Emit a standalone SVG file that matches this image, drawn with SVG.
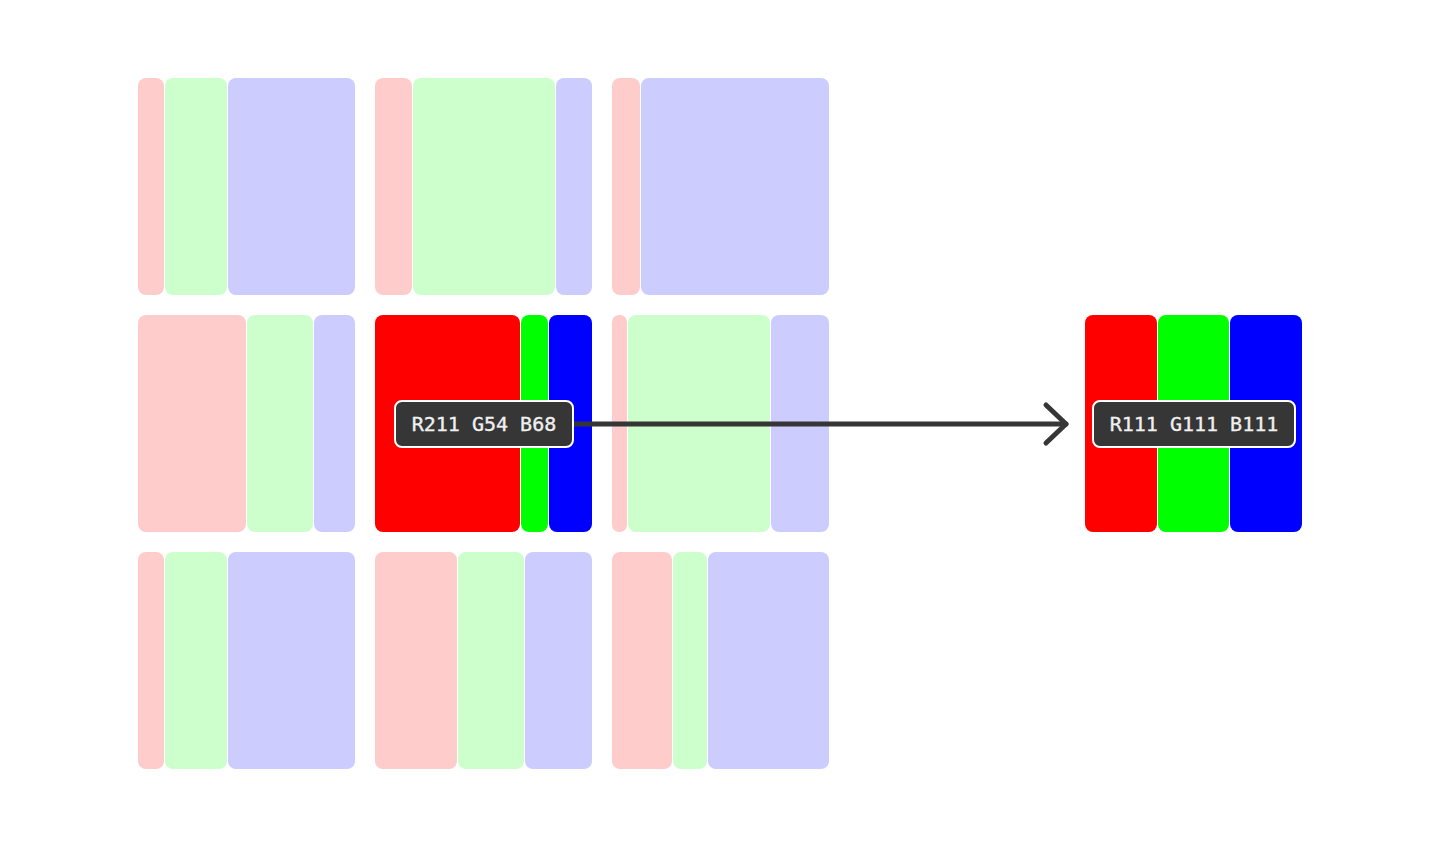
<svg xmlns="http://www.w3.org/2000/svg" width="1440" height="847" viewBox="0 0 1440 847">
<defs>
<style>
.r{fill:#ffcccc}
.g{fill:#ccffcc}
.b{fill:#ccccff}
.R{fill:#ff0000}
.G{fill:#00ff00}
.B{fill:#0000ff}
.lbl{fill:#363636;stroke:#ffffff;stroke-width:2}
.txt{fill:#f0f0f0;stroke:#f0f0f0;stroke-width:0.35;font-family:"DejaVu Sans Mono","Liberation Mono",monospace;font-size:20px;text-anchor:middle}
.conn{fill:none;stroke:#363636;stroke-width:5;stroke-linecap:round;stroke-linejoin:round}
</style>
</defs>
<rect width="1440" height="847" fill="#ffffff"/>
<g id="cell-0-0">
<rect class="r" x="138" y="78" width="26" height="217" rx="8"/>
<rect class="g" x="165" y="78" width="62" height="217" rx="8"/>
<rect class="b" x="228" y="78" width="127" height="217" rx="8"/>
</g>
<g id="cell-0-1">
<rect class="r" x="375" y="78" width="37" height="217" rx="8"/>
<rect class="g" x="413" y="78" width="142" height="217" rx="8"/>
<rect class="b" x="556" y="78" width="36" height="217" rx="8"/>
</g>
<g id="cell-0-2">
<rect class="r" x="612" y="78" width="28" height="217" rx="8"/>
<rect class="b" x="641" y="78" width="188" height="217" rx="8"/>
</g>
<g id="cell-1-0">
<rect class="r" x="138" y="315" width="108" height="217" rx="8"/>
<rect class="g" x="247" y="315" width="66" height="217" rx="8"/>
<rect class="b" x="314" y="315" width="41" height="217" rx="8"/>
</g>
<g id="cell-1-1">
<rect class="R" x="375" y="315" width="145" height="217" rx="8"/>
<rect class="G" x="521" y="315" width="27" height="217" rx="8"/>
<rect class="B" x="549" y="315" width="43" height="217" rx="8"/>
</g>
<g id="cell-1-2">
<rect class="r" x="612" y="315" width="15" height="217" rx="7"/>
<rect class="g" x="628" y="315" width="142" height="217" rx="8"/>
<rect class="b" x="771" y="315" width="58" height="217" rx="8"/>
</g>
<g id="cell-2-0">
<rect class="r" x="138" y="552" width="26" height="217" rx="8"/>
<rect class="g" x="165" y="552" width="62" height="217" rx="8"/>
<rect class="b" x="228" y="552" width="127" height="217" rx="8"/>
</g>
<g id="cell-2-1">
<rect class="r" x="375" y="552" width="82" height="217" rx="8"/>
<rect class="g" x="458" y="552" width="66" height="217" rx="8"/>
<rect class="b" x="525" y="552" width="67" height="217" rx="8"/>
</g>
<g id="cell-2-2">
<rect class="r" x="612" y="552" width="60" height="217" rx="8"/>
<rect class="g" x="673" y="552" width="34" height="217" rx="8"/>
<rect class="b" x="708" y="552" width="121" height="217" rx="8"/>
</g>
<g id="result">
<rect class="R" x="1085" y="315" width="72" height="217" rx="8"/>
<rect class="G" x="1158" y="315" width="71" height="217" rx="8"/>
<rect class="B" x="1230" y="315" width="72" height="217" rx="8"/>
</g>
<g id="connectors">
<path class="conn" d="M573 424 H1066"/>
<path class="conn" d="M1046 405 L1066 424 L1046 443"/>
</g>
<g id="label-source">
<rect class="lbl" x="395" y="401" width="178" height="46" rx="7"/>
<text class="txt" x="484" y="431">R211 G54 B68</text>
</g>
<g id="label-result">
<rect class="lbl" x="1093" y="401" width="202" height="46" rx="7"/>
<text class="txt" x="1194" y="431">R111 G111 B111</text>
</g>
</svg>
